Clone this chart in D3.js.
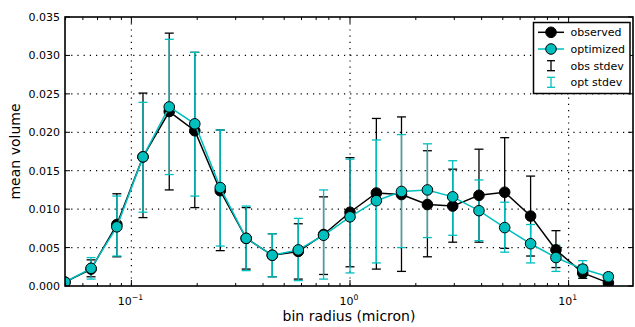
<!DOCTYPE html>
<html>
<head>
<meta charset="utf-8">
<script src="https://cdn.jsdelivr.net/npm/d3@7/dist/d3.min.js"></script>
<style>
    body { margin: 0; background: #fff; }
    svg { display: block; font-family: "DejaVu Sans", sans-serif; }
</style>
</head>
<body>
<svg id="chart" width="635" height="327"></svg>
<script>
// bin radius (micron), log-spaced bins
var radius = [0.0497, 0.0654, 0.0858, 0.113, 0.149, 0.195, 0.255, 0.335, 0.441, 0.580, 0.757,
    1.00, 1.32, 1.72, 2.26, 2.95, 3.89, 5.10, 6.70, 8.75, 11.6, 15.2];

var observed = [0.0005, 0.0022, 0.0080, 0.0168, 0.0227, 0.0202, 0.0124, 0.0062, 0.0040, 0.0045, 0.0067,
    0.0096, 0.0121, 0.0119, 0.0106, 0.0104, 0.0118, 0.0122, 0.0091, 0.0047, 0.0017, 0.0004];
var optimized = [0.0005, 0.0023, 0.0077, 0.0168, 0.0233, 0.0211, 0.0128, 0.0062, 0.0040, 0.0047, 0.0066,
    0.0090, 0.0111, 0.0123, 0.0125, 0.0116, 0.0098, 0.0076, 0.0055, 0.0037, 0.0022, 0.0012];

// error bar ends (value -/+ stdev)
var obsLow = [0.0003, 0.0012, 0.0038, 0.0089, 0.0125, 0.0102, 0.0046, 0.0022, 0.0012, 0.0009, 0.0015,
    0.0025, 0.0022, 0.0019, 0.0038, 0.0057, 0.0057, 0.0049, 0.0039, 0.0024, 0.0010, 0.0001];
var obsHigh = [0.0007, 0.0034, 0.0120, 0.0251, 0.0329, 0.0304, 0.0203, 0.0102, 0.0068, 0.0081, 0.0116,
    0.0167, 0.0218, 0.0220, 0.0176, 0.0152, 0.0178, 0.0193, 0.0143, 0.0072, 0.0027, 0.0007];
var optLow = [0.0003, 0.0009, 0.0039, 0.0096, 0.0145, 0.0117, 0.0052, 0.0020, 0.0012, 0.0007, 0.0009,
    0.0017, 0.0030, 0.0050, 0.0063, 0.0066, 0.0059, 0.0044, 0.0030, 0.0019, 0.0012, 0.0007];
var optHigh = [0.0007, 0.0037, 0.0117, 0.0239, 0.0321, 0.0304, 0.0203, 0.0104, 0.0068, 0.0088, 0.0125,
    0.0165, 0.0190, 0.0197, 0.0185, 0.0163, 0.0138, 0.0109, 0.0080, 0.0053, 0.0033, 0.0017];

var yTicks = [0, 0.005, 0.010, 0.015, 0.020, 0.025, 0.030, 0.035];
var xMajor = [0.1, 1, 10];
var xMajorExp = ['\u22121', '0', '1'];
var legendLabels = ['observed', 'optimized', 'obs stdev', 'opt stdev'];

var cyan = '#00bfbf';

var svg = d3.select('#chart'),
    plotLeft = 65, plotRight = 633, plotTop = 17, plotBottom = 286;

var x = d3.scaleLog().domain([0.0497, 19.7]).range([plotLeft, plotRight]),
    y = d3.scaleLinear().domain([0, 0.035]).range([plotBottom, plotTop]);

svg.append('defs').append('clipPath').attr('id', 'plot-clip')
    .append('rect').attr('x', plotLeft).attr('y', plotTop)
    .attr('width', plotRight - plotLeft).attr('height', plotBottom - plotTop);

// dotted grid
var grid = svg.append('g').attr('stroke', '#000').attr('stroke-width', 1.2).attr('stroke-dasharray', '1.2,5');
grid.selectAll('line.gy').data(yTicks.slice(1, -1)).enter().append('line')
    .attr('x1', plotLeft).attr('x2', plotRight)
    .attr('y1', function(d) { return y(d); }).attr('y2', function(d) { return y(d); });
grid.selectAll('line.gx').data(xMajor).enter().append('line')
    .attr('y1', plotTop).attr('y2', plotBottom)
    .attr('x1', function(d) { return x(d); }).attr('x2', function(d) { return x(d); });

var plot = svg.append('g').attr('clip-path', 'url(#plot-clip)');

var drawErrors = function(low, high, color) {
    var g = plot.append('g').attr('stroke', color).attr('stroke-width', 1.3).attr('fill', 'none');
    radius.forEach(function(r, i) {
        var cx = x(r);
        g.append('line').attr('x1', cx).attr('x2', cx).attr('y1', y(low[i])).attr('y2', y(high[i]));
        g.append('line').attr('x1', cx - 4.5).attr('x2', cx + 4.5).attr('y1', y(low[i])).attr('y2', y(low[i]));
        g.append('line').attr('x1', cx - 4.5).attr('x2', cx + 4.5).attr('y1', y(high[i])).attr('y2', y(high[i]));
    });
};
drawErrors(obsLow, obsHigh, '#000');
drawErrors(optLow, optHigh, cyan);

var drawSeries = function(values, color) {
    var line = d3.line()
        .x(function(d, i) { return x(radius[i]); })
        .y(function(d) { return y(d); });
    plot.append('path').datum(values)
        .attr('d', line).attr('fill', 'none').attr('stroke', color).attr('stroke-width', 1.5);
    plot.append('g').selectAll('circle').data(values).enter().append('circle')
        .attr('cx', function(d, i) { return x(radius[i]); })
        .attr('cy', function(d) { return y(d); })
        .attr('r', 5.3)
        .attr('fill', color).attr('stroke', '#000').attr('stroke-width', 1);
};
drawSeries(observed, '#000');
drawSeries(optimized, cyan);

// ticks, inside on all four sides
var ticks = svg.append('g').attr('stroke', '#000').attr('stroke-width', 1);
yTicks.forEach(function(t) {
    ticks.append('line').attr('x1', plotLeft).attr('x2', plotLeft + 5).attr('y1', y(t)).attr('y2', y(t));
    ticks.append('line').attr('x1', plotRight - 5).attr('x2', plotRight).attr('y1', y(t)).attr('y2', y(t));
});
x.ticks().forEach(function(t) {
    var major = xMajor.indexOf(t) >= 0,
        len = major ? 6 : 3;
    ticks.append('line').attr('x1', x(t)).attr('x2', x(t)).attr('y1', plotBottom).attr('y2', plotBottom - len);
    ticks.append('line').attr('x1', x(t)).attr('x2', x(t)).attr('y1', plotTop).attr('y2', plotTop + len);
});

svg.append('rect')
    .attr('x', plotLeft).attr('y', plotTop).attr('width', plotRight - plotLeft).attr('height', plotBottom - plotTop)
    .attr('fill', 'none').attr('stroke', '#000').attr('stroke-width', 1.6);

// tick labels
svg.append('g').selectAll('text').data(yTicks).enter().append('text')
    .attr('x', 60).attr('y', function(d) { return y(d); }).attr('dy', '0.36em')
    .attr('text-anchor', 'end').attr('font-size', 11).attr('fill', '#000')
    .text(d3.format('.3f'));

var xLabels = svg.append('g').selectAll('text').data(xMajor).enter().append('text')
    .attr('x', function(d) { return x(d) - 1; }).attr('y', 305)
    .attr('text-anchor', 'middle').attr('font-size', 11).attr('fill', '#000');
xLabels.append('tspan').text('10');
xLabels.append('tspan').attr('dy', -5).attr('font-size', 7.7)
    .text(function(d, i) { return xMajorExp[i]; });

svg.append('text').attr('x', (plotLeft + plotRight) / 2).attr('y', 321)
    .attr('text-anchor', 'middle').attr('font-size', 14).text('bin radius (micron)');
svg.append('text').attr('transform', 'translate(20,' + ((plotTop + plotBottom) / 2) + ') rotate(-90)')
    .attr('text-anchor', 'middle').attr('font-size', 14).text('mean volume');

// legend
var legend = svg.append('g');
legend.append('rect').attr('x', 533.5).attr('y', 22.5).attr('width', 96.5).attr('height', 71)
    .attr('fill', '#fff').attr('stroke', '#000').attr('stroke-width', 1.5);
var rowY = [32.3, 49, 65.7, 82.3];
legendLabels.forEach(function(label, i) {
    var color = i % 2 === 0 ? '#000' : cyan,
        ly = rowY[i];
    if(i < 2) {
        legend.append('line').attr('x1', 538).attr('x2', 564).attr('y1', ly).attr('y2', ly)
            .attr('stroke', color).attr('stroke-width', 1.5);
        legend.append('circle').attr('cx', 551).attr('cy', ly).attr('r', 5.3)
            .attr('fill', color).attr('stroke', '#000').attr('stroke-width', 1);
    }
    else {
        var e = legend.append('g').attr('stroke', color).attr('stroke-width', 1.3);
        e.append('line').attr('x1', 551).attr('x2', 551).attr('y1', ly - 5).attr('y2', ly + 5);
        e.append('line').attr('x1', 547).attr('x2', 555).attr('y1', ly - 5).attr('y2', ly - 5);
        e.append('line').attr('x1', 547).attr('x2', 555).attr('y1', ly + 5).attr('y2', ly + 5);
    }
    legend.append('text').attr('x', 570.5).attr('y', ly).attr('dy', '0.36em')
        .attr('font-size', 11).attr('fill', '#000').text(label);
});
</script>
</body>
</html>
